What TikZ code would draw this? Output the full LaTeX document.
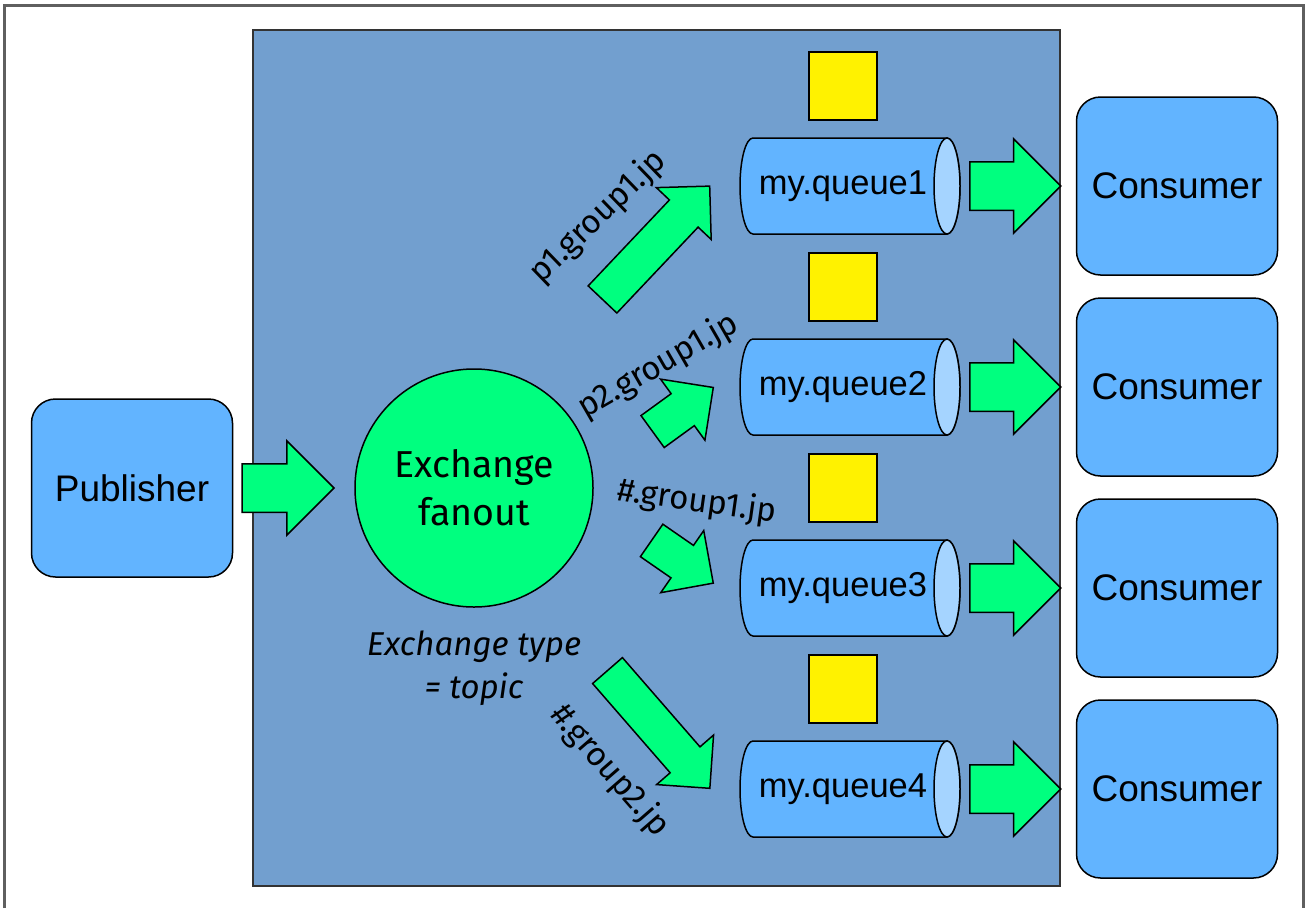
\documentclass[tikz,border=0pt]{standalone}
\usepackage{fontspec}
\setmainfont{Liberation Sans}
\newfontfamily\keyfont{Fira Sans}
\usepackage{xcolor}
\usetikzlibrary{positioning,shapes.arrows}

\definecolor{panelblue}{RGB}{114,159,207}
\definecolor{boxblue}{RGB}{98,180,255}
\definecolor{endblue}{RGB}{165,212,255}
\definecolor{fangreen}{RGB}{0,255,127}
\definecolor{framegray}{RGB}{95,95,95}

% queue drum: name, x, y, text
\newcommand{\queuedrum}[4]{%
  \draw[fill=boxblue] (#2+97,#3-48) -- (#2-97,#3-48)
    arc[start angle=270,end angle=90,x radius=13,y radius=48]
    -- (#2+97,#3+48) arc[start angle=90,end angle=-90,x radius=13,y radius=48] -- cycle;
  \draw[fill=endblue] (#2+97,#3) ellipse[x radius=13,y radius=48];
  \node [qtext] at (#2-7,#3) (#1) {#4};}

\begin{document}
\begin{tikzpicture}[x=1pt,y=-1pt,line width=1.5pt,
    box/.style={draw,fill=boxblue,rounded corners=24pt,minimum width=201pt,minimum height=178pt,font=\fontsize{37}{40}\selectfont},
    qtext/.style={inner sep=0pt,font=\fontsize{34.5}{38}\selectfont},
    msg/.style={draw,fill=yellow,minimum size=68pt,inner sep=0pt},
    fat/.style={single arrow,draw,fill=fangreen,anchor=tail,inner xsep=0pt,inner ysep=23.5pt,single arrow head extend=23pt,minimum height=92pt},
    slim/.style={fat,inner ysep=19pt,single arrow head extend=18pt},
    rkey/.style={font=\keyfont\fontsize{33}{36}\selectfont}]

    \useasboundingbox (0,0) rectangle (1309,908);

    % Frame and broker
    \draw[framegray,line width=3pt] (4,908) -- (4,5) -- (1303,5) -- (1303,908);
    \draw[fill=panelblue,draw=black!80] (253,30) rectangle (1060,886);

    % Publisher and exchange
    \node [box] at (132,488) (pub) {Publisher};
    \node [circle,draw,fill=fangreen,minimum size=238pt,align=center,font=\keyfont\fontsize{37.5}{48}\selectfont] at (474,488) (ex) {Exchange\\fanout};
    \node [font=\keyfont\itshape\fontsize{33}{43}\selectfont,align=center] at (474,668) (type) {Exchange type\\= topic};
    \node [fat] at ([xshift=8pt]pub.east) (in) {};

    % Messages
    \node [msg] at (843,86) (m1) {};
    \node [msg] at (843,287) (m2) {};
    \node [msg] at (843,488) (m3) {};
    \node [msg] at (843,689) (m4) {};

    % Queues
    \queuedrum{q1}{850}{186}{my.queue1}
    \queuedrum{q2}{850}{387}{my.queue2}
    \queuedrum{q3}{850}{588}{my.queue3}
    \queuedrum{q4}{850}{789}{my.queue4}

    % Consumers
    \node [box] at (1177,186) (c1) {Consumer};
    \node [box] at (1177,387) (c2) {Consumer};
    \node [box] at (1177,588) (c3) {Consumer};
    \node [box] at (1177,789) (c4) {Consumer};

    % Bindings
    \node [slim,rotate=46.6,minimum height=156pt] at (602,300) (b1) {};
    \node [slim,rotate=36,minimum height=75pt] at (652,432) (b2) {};
    \node [slim,rotate=-34.7,minimum height=75pt] at (651,540) (b3) {};
    \node [slim,rotate=-49,minimum height=156pt] at (607,670) (b4) {};
    \node [rkey,rotate=44] at (598,217) (k1) {p1.group1.jp};
    \node [rkey,rotate=30] at (658,366) (k2) {p2.group1.jp};
    \node [rkey,rotate=-8] at (697,502) (k3) {\#.group1.jp};
    \node [rkey,rotate=-49] at (610,771) (k4) {\#.group2.jp};

    % Deliveries
    \node [fat,minimum height=91pt] at (969,0 |- q1) (d1) {};
    \node [fat,minimum height=91pt] at (969,0 |- q2) (d2) {};
    \node [fat,minimum height=91pt] at (969,0 |- q3) (d3) {};
    \node [fat,minimum height=91pt] at (969,0 |- q4) (d4) {};

\end{tikzpicture}
\end{document}
